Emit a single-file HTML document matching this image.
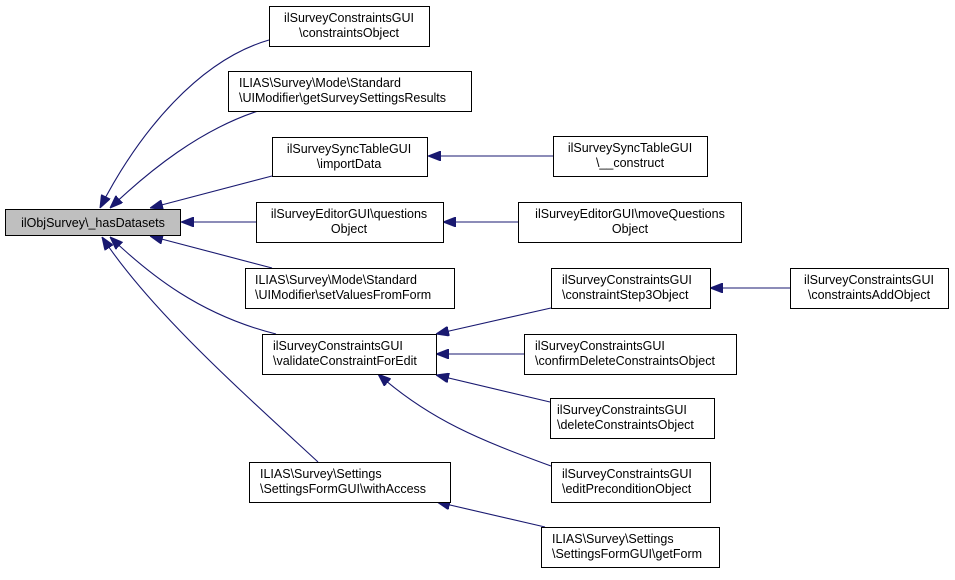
<!DOCTYPE html>
<html><head><meta charset="utf-8"><style>
html,body{margin:0;padding:0;background:#fff;}
svg text{font-family:"Liberation Sans",sans-serif;font-size:12.5px;fill:#000;}
</style></head><body>
<svg width="955" height="575" viewBox="0 0 955 575" xmlns="http://www.w3.org/2000/svg">
<defs>
<marker id="a" viewBox="0 0 13 10" refX="0" refY="5" markerWidth="13" markerHeight="10" markerUnits="userSpaceOnUse" orient="auto">
<path d="M0,5 L13,0 L13,10 z" fill="#191970" stroke="#191970" stroke-width="1"/>
</marker>
</defs>
<g fill="none" stroke="#191970" stroke-width="1.1">
<path d="M100,208 C140,130 200,60 269,40" marker-start="url(#a)"/>
<path d="M110,208 C150,170 200,130 258,111" marker-start="url(#a)"/>
<path d="M150,208 L272,176" marker-start="url(#a)"/>
<path d="M181,222 L256,222" marker-start="url(#a)"/>
<path d="M150,236 L272,268" marker-start="url(#a)"/>
<path d="M110,237 C150,275 200,315 276,334" marker-start="url(#a)"/>
<path d="M102,237 C150,310 240,390 318,462" marker-start="url(#a)"/>
<path d="M428,156 L553,156" marker-start="url(#a)"/>
<path d="M443,222 L518,222" marker-start="url(#a)"/>
<path d="M710,288 L790,288" marker-start="url(#a)"/>
<path d="M436,334 L551,308" marker-start="url(#a)"/>
<path d="M436,354 L524,354" marker-start="url(#a)"/>
<path d="M436,375 L550,402" marker-start="url(#a)"/>
<path d="M378,374 C430,420 480,440 551,466" marker-start="url(#a)"/>
<path d="M437,502 L545,527" marker-start="url(#a)"/>
</g>
<g stroke="#000" stroke-width="1">
<rect x="5.5" y="209.5" width="175" height="26" fill="#bfbfbf"/>
<rect x="269.5" y="6.5" width="160" height="40" fill="#fff"/>
<rect x="228.5" y="71.5" width="243" height="40" fill="#fff"/>
<rect x="272.5" y="137.5" width="155" height="39" fill="#fff"/>
<rect x="256.5" y="202.5" width="187" height="40" fill="#fff"/>
<rect x="245.5" y="268.5" width="209" height="40" fill="#fff"/>
<rect x="262.5" y="334.5" width="174" height="40" fill="#fff"/>
<rect x="249.5" y="462.5" width="201" height="40" fill="#fff"/>
<rect x="553.5" y="136.5" width="154" height="40" fill="#fff"/>
<rect x="518.5" y="202.5" width="223" height="40" fill="#fff"/>
<rect x="551.5" y="268.5" width="159" height="40" fill="#fff"/>
<rect x="524.5" y="334.5" width="212" height="40" fill="#fff"/>
<rect x="550.5" y="398.5" width="164" height="40" fill="#fff"/>
<rect x="551.5" y="462.5" width="159" height="40" fill="#fff"/>
<rect x="541.5" y="527.5" width="178" height="40" fill="#fff"/>
<rect x="790.5" y="268.5" width="158" height="40" fill="#fff"/>
</g>
<text x="93" y="227" text-anchor="middle">ilObjSurvey\_hasDatasets</text>
<text x="349" y="22" text-anchor="middle">ilSurveyConstraintsGUI</text>
<text x="349" y="37" text-anchor="middle">\constraintsObject</text>
<text x="239" y="87">ILIAS\Survey\Mode\Standard</text>
<text x="239" y="102">\UIModifier\getSurveySettingsResults</text>
<text x="349" y="153" text-anchor="middle">ilSurveySyncTableGUI</text>
<text x="349" y="168" text-anchor="middle">\importData</text>
<text x="349" y="218" text-anchor="middle">ilSurveyEditorGUI\questions</text>
<text x="349" y="233" text-anchor="middle">Object</text>
<text x="255" y="284">ILIAS\Survey\Mode\Standard</text>
<text x="255" y="299">\UIModifier\setValuesFromForm</text>
<text x="273" y="350">ilSurveyConstraintsGUI</text>
<text x="273" y="365">\validateConstraintForEdit</text>
<text x="260" y="478">ILIAS\Survey\Settings</text>
<text x="260" y="493">\SettingsFormGUI\withAccess</text>
<text x="630" y="152" text-anchor="middle">ilSurveySyncTableGUI</text>
<text x="630" y="167" text-anchor="middle">\__construct</text>
<text x="630" y="218" text-anchor="middle">ilSurveyEditorGUI\moveQuestions</text>
<text x="630" y="233" text-anchor="middle">Object</text>
<text x="562" y="284">ilSurveyConstraintsGUI</text>
<text x="562" y="299">\constraintStep3Object</text>
<text x="535" y="350">ilSurveyConstraintsGUI</text>
<text x="535" y="365">\confirmDeleteConstraintsObject</text>
<text x="557" y="414">ilSurveyConstraintsGUI</text>
<text x="557" y="429">\deleteConstraintsObject</text>
<text x="562" y="478">ilSurveyConstraintsGUI</text>
<text x="562" y="493">\editPreconditionObject</text>
<text x="552" y="543">ILIAS\Survey\Settings</text>
<text x="552" y="558">\SettingsFormGUI\getForm</text>
<text x="869" y="284" text-anchor="middle">ilSurveyConstraintsGUI</text>
<text x="869" y="299" text-anchor="middle">\constraintsAddObject</text>
</svg>
</body></html>
